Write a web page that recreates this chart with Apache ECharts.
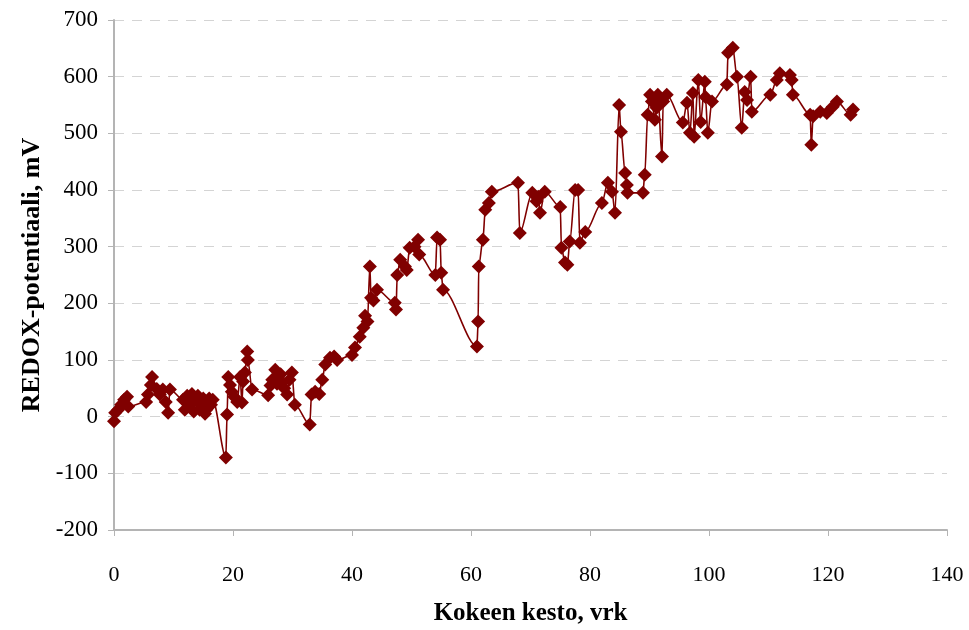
<!DOCTYPE html>
<html>
<head>
<meta charset="utf-8">
<script src="https://cdn.jsdelivr.net/npm/echarts@6/dist/echarts.min.js"></script>
<style>
  html, body { margin: 0; padding: 0; background: #fff; }
  #chart { width: 969px; height: 630px; }
</style>
</head>
<body>
<div id="chart"></div>
<script>
// Experiment duration (days) and measured redox potential (mV)
const days = [
  0.0, 0.2, 0.7, 1.2, 1.7, 2.2, 2.4, 5.4, 5.7, 6.2, 6.4, 7.2, 7.7, 8.2, 8.7, 9.1, 9.4,
  11.6, 11.9, 12.3, 12.6, 12.8, 13.1, 13.4, 13.8, 14.1, 14.4, 14.6, 15.0, 15.3, 15.5,
  15.8, 16.0, 16.3, 16.6, 18.8, 19.0, 19.2,
  19.5, 19.8, 20.2, 20.7, 21.2, 21.5, 21.7, 22.0, 22.4, 22.5, 23.2, 25.9, 26.3, 26.6,
  27.1, 27.4, 27.6, 28.0, 28.2, 28.6, 29.1, 29.5, 29.9, 30.4, 32.9, 33.2, 33.8, 34.5,
  35.0, 35.5, 36.3, 37.0,
  37.5, 40.0, 40.5, 41.3, 41.9, 42.2, 42.6, 43.0, 43.2, 43.6, 44.2, 47.2, 47.4, 47.6,
  48.1, 48.9, 49.2, 49.7, 50.5, 51.1, 51.3, 54.0, 54.3, 54.8, 55.0, 55.3, 61.0, 61.2,
  61.3, 62.0, 62.4, 63.0, 63.5, 67.9, 68.2, 70.3, 71.0, 71.3, 71.6, 72.4, 75.0, 75.2,
  75.8, 76.2, 76.6, 77.5, 78.0, 78.3, 79.2, 82.0, 83.0, 83.7, 84.2, 84.9, 85.2, 85.9,
  86.2, 86.3, 88.9, 89.2, 89.7, 90.1, 90.4, 90.9, 91.2, 91.4, 92.1, 92.3, 92.9, 95.6, 96.3,
  96.8, 97.3, 97.5, 98.2, 98.6, 99.3, 99.4, 99.8, 100.5, 103.0, 103.2, 104.0, 104.7, 105.5,
  106.0, 106.4, 107.0, 107.2, 110.3, 111.4, 111.9, 113.6, 113.9, 114.1, 117.0, 117.2,
  117.5, 118.7, 119.8, 120.8, 121.5, 123.8, 124.2
];
const redox = [
  -8, 7, 12, 21, 30, 35, 18, 26, 39, 56, 70, 49, 39, 48, 26, 7, 48,
  30, 12, 37, 25, 21, 40, 9, 30, 37, 12, 21, 32, 5, 12,
  28, 32, 21, 30, -72, 4, 70,
  56, 44, 35, 26, 70, 25, 62, 78, 115, 100, 48, 38, 55, 65,
  83, 58, 70, 75, 60, 50, 39, 65, 78, 21, -14, 39, 44, 40,
  65, 92, 104, 106,
  100, 109, 122, 141, 157, 178, 168, 265, 210, 205, 224, 201, 189, 250,
  277, 265, 259, 298, 300, 312, 286, 250, 316, 312, 254, 224, 124, 168,
  265, 312, 365, 377, 397, 413, 324, 395, 380, 388, 360, 397, 370, 298,
  272, 268, 309, 400, 400, 307, 326, 377, 413, 397, 360, 550, 503, 430,
  409, 395, 395, 427, 533, 568, 556, 524, 545, 568, 459, 556, 568, 519, 554,
  501, 571, 494, 594, 520, 591, 564, 501, 556, 586, 642, 651, 600, 510,
  573, 559, 600, 538, 568, 594, 606, 603, 594, 568, 533, 480,
  530, 538, 536, 547, 556, 533, 542
];
const xTicks = { min: 0, max: 140, step: 20 };
const yTicks = { min: -200, max: 700, step: 100 };

const points = days.map((d, i) => [d, redox[i]]);
const serif = '"Liberation Serif", "Times New Roman", serif';
const axisGrey = '#b4b4b4';

const chart = echarts.init(document.getElementById('chart'), null, { renderer: 'canvas' });
chart.setOption({
  animation: false,
  backgroundColor: '#ffffff',
  grid: { left: 114, right: 22, top: 20, bottom: 100, outerBoundsMode: 'none', containLabel: false },
  xAxis: {
    type: 'value',
    min: xTicks.min, max: xTicks.max, interval: xTicks.step,
    name: 'Kokeen kesto, vrk',
    nameLocation: 'middle',
    nameGap: 71,
    nameTextStyle: { fontFamily: serif, fontSize: 25, fontWeight: 'bold', color: '#000' },
    axisLine: { onZero: false, lineStyle: { color: axisGrey, width: 2 } },
    axisTick: { show: true, length: 6, lineStyle: { color: axisGrey, width: 1 } },
    axisLabel: { fontFamily: serif, fontSize: 22, color: '#000', margin: 34 },
    splitLine: { show: false }
  },
  yAxis: {
    type: 'value',
    min: yTicks.min, max: yTicks.max, interval: yTicks.step,
    name: 'REDOX-potentiaali, mV',
    nameLocation: 'middle',
    nameGap: 56,
    nameTextStyle: { fontFamily: serif, fontSize: 26, fontWeight: 'bold', color: '#000' },
    axisLine: { show: true, lineStyle: { color: axisGrey, width: 2 } },
    axisTick: { show: true, length: 6, lineStyle: { color: axisGrey, width: 1 } },
    axisLabel: { fontFamily: serif, fontSize: 23, color: '#000', margin: 16 },
    splitLine: { show: true, lineStyle: { color: '#d4d4d4', type: [10, 8], width: 1 } }
  },
  series: [{
    type: 'line',
    data: points,
    smooth: 0.3,
    smoothMonotone: 'x',
    symbol: 'diamond',
    symbolSize: 14,
    showAllSymbol: true,
    itemStyle: { color: '#800000' },
    lineStyle: { color: '#800000', width: 1.6 }
  }]
});
</script>
</body>
</html>
